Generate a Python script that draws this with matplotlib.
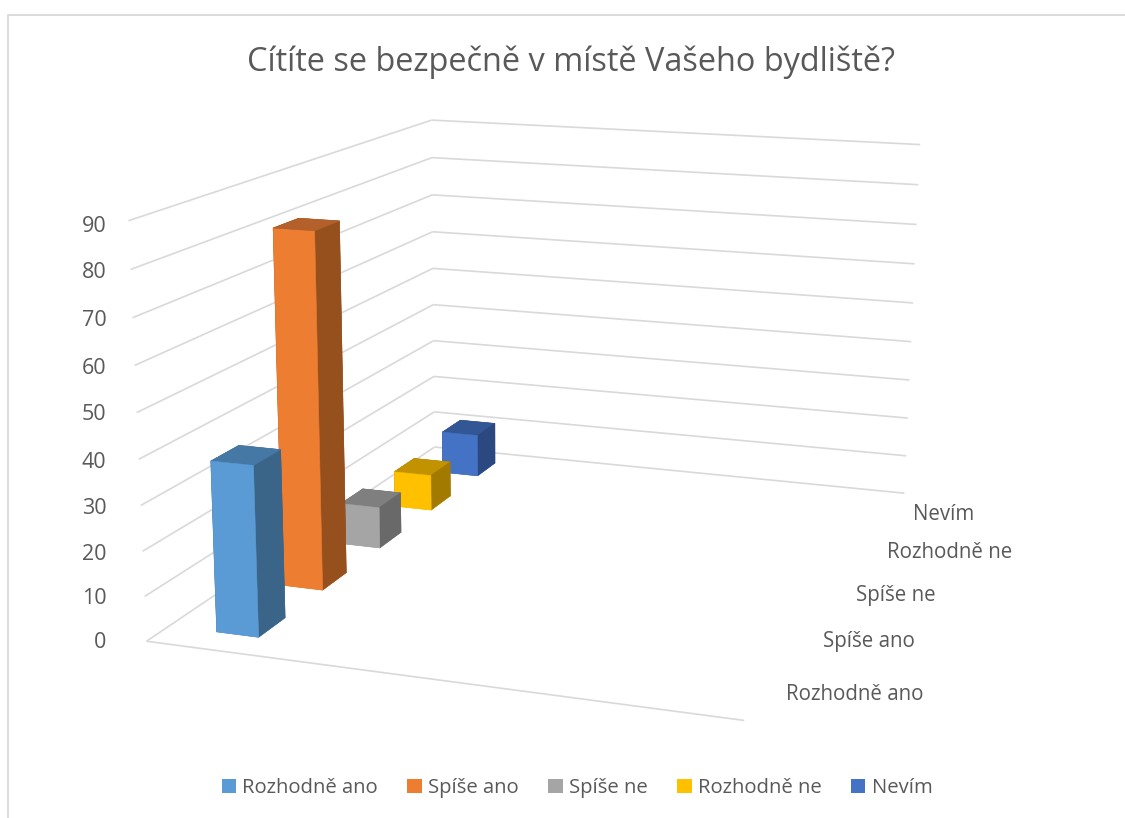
import numpy as np, matplotlib
matplotlib.use('Agg')
import matplotlib.pyplot as plt
from matplotlib.patches import Patch
from matplotlib.lines import Line2D
from mpl_toolkits.mplot3d.art3d import Line3DCollection

# ---- data ----
categories = ['Rozhodně ano', 'Spíše ano', 'Spíše ne', 'Rozhodně ne', 'Nevím']
values = [38, 82, 10, 9, 11]
z_ticks = list(range(0, 100, 10))
title = 'Cítíte se bezpečně v místě Vašeho bydliště?'

# ---- styles ----
front = ['#5B9BD5', '#ED7D31', '#A5A5A5', '#FFC000', '#4472C4']
side = ['#3A6589', '#96501E', '#696969', '#A37A00', '#2B4980']
top = ['#4678A5', '#B4602A', '#7F7F7F', '#C29200', '#335695']
grid = '#D9D9D9'
textc = '#595959'
W, H = 1125, 818
plt.rcParams['font.family'] = ['Open Sans', 'DejaVu Sans']

# calibration of the chart's 3D frame: (floor x, depth, value) -> image position
calib = [((0,0,0),(147,640)),((0,0,10),(144,597)),((0,0,20),(143,551)),((0,0,30),(141,506)),
         ((0,0,40),(138,459)),((0,0,50),(137,413)),((0,0,80),(130,270)),((0,0,90),(128,221)),
         ((0,1,0),(434,447)),((0,1,10),(434,412)),((0,1,50),(433,268)),((0,1,90),(433,120)),
         ((1,0,0),(745,720)),((1,1,0),(905,494)),((1,1,50),(912,303)),((1,1,90),(920,144))]
A, b = [], []
for (x, y, z), (u, v) in calib:
    A.append([x, y, z, 1, 0, 0, 0, 0, -u*x, -u*y, -u*z]); b.append(u)
    A.append([0, 0, 0, 0, x, y, z, 1, -v*x, -v*y, -v*z]); b.append(v)
scale = np.array([1, 1, 1/90, 1]*2 + [1/1000, 1/1000, 1/90000])
sol = np.linalg.lstsq(np.array(A, float)*scale, np.array(b, float), rcond=None)[0]*scale
P = np.append(sol, 1).reshape(3, 4)
M = np.array([P[0], P[1], [0, 0, 0, -1], P[2]])

fig = plt.figure(figsize=(W/100, H/100), dpi=100, facecolor='white')
ax = fig.add_axes([0, 0, 1, 1], projection='3d', computed_zorder=False)
ax.set_axis_off()
ax.patch.set_alpha(0)
ax.apply_aspect = lambda position=None: None
ax.get_proj = lambda: M
ax.viewLim.intervalx = (0, W)
ax.viewLim.intervaly = (H, 0)

# walls and floor
segments = []
for z in z_ticks:
    segments.append([(0, 0, z), (0, 1, z)])
    segments.append([(0, 1, z), (1, 1, z)])
segments.append([(0, 0, 0), (1, 0, 0)])
ax.add_collection3d(Line3DCollection(segments, colors=grid, linewidths=1.2, zorder=1))

# bars: one column on the floor, one depth slot per category
n = len(categories)
bar_x = 0.087
bar_dx = 0.076
slot = 1 / n
bar_dy = 0.08
ys = [slot*i + 0.0625 for i in range(n)]
face_colors = []
for f, s, t in zip(front, side, top):
    # order used by bar3d: bottom, top, -y, +y, -x, +x
    face_colors += [f, t, f, s, s, s]
ax.bar3d([bar_x]*n, ys, [0]*n, bar_dx, bar_dy, values, color=face_colors,
         shade=False, edgecolor=face_colors, linewidth=0.4, zorder=3)

# value axis labels
z_label_px = [643, 599, 554, 508, 462, 415, 368, 320, 273, 227]
for z, py in zip(z_ticks, z_label_px):
    fig.text(106.5/W, 1-py/H, str(z), ha='right', va='center', fontsize=15.5, color=textc)

# depth axis labels
cat_px = [(854.5, 695), (869, 642), (896, 595), (950, 552), (944, 514)]
for c, (px, py) in zip(categories, cat_px):
    fig.text(px/W, 1-py/H, c, ha='center', va='center', fontsize=14.8, color=textc)

fig.text(571/W, 1-62/H, title, ha='center', va='center', fontsize=23.4, color=textc)

handles = [Patch(facecolor=c, edgecolor='none') for c in front]
fig.legend(handles, categories, loc='center', bbox_to_anchor=(577/W, 1-788/H), ncol=n,
           frameon=False, fontsize=14.6, labelcolor=textc, handlelength=0.72, handleheight=0.72,
           handletextpad=0.3, columnspacing=1.45)

# chart border (top and left only are visible)
fig.add_artist(Line2D([8/W, 8/W, 1], [0, 1-14.5/H, 1-14.5/H], color='#D9D9D9', lw=1.3))
fig.savefig('out.png', dpi=100)
